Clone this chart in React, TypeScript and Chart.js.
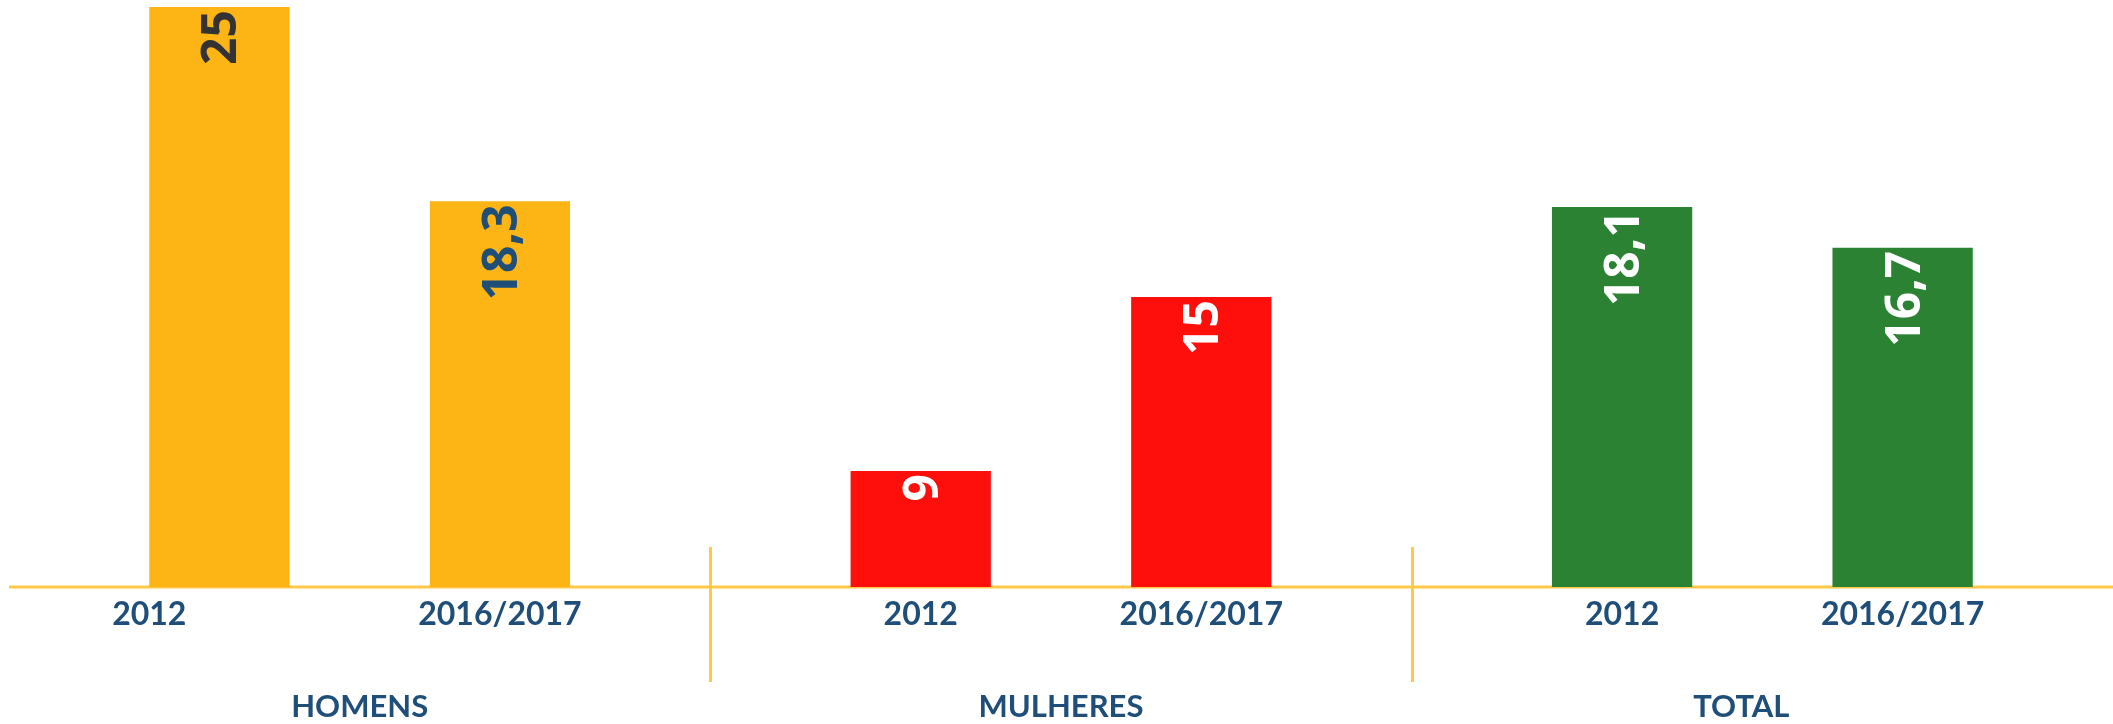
import React, { useEffect, useRef } from 'react';
import { Chart, registerables } from 'chart.js';

Chart.register(...registerables);

// ---- data ----
const groups = ['HOMENS', 'MULHERES', 'TOTAL'];
const periods = ['2012', '2016/2017'];
const values2012 = [25, 9, 18.1];
const values2016_2017 = [18.3, 15, 16.7];

// ---- styles ----
const GROUP_COLORS = ['#FCB514', '#FF0F0C', '#2A8232'];
const LABEL_COLORS = [
  ['#333333', '#FFFFFF', '#FFFFFF'],
  ['#1F4E79', '#FFFFFF', '#FFFFFF'],
];
const AXIS_COLOR = '#FFC847';
const TEXT_BLUE = '#1F4E79';
const GROUP_LABEL_NUDGE = [0, 0, -21];

const fmt = (v: number) => String(v).replace('.', ',');

const drawPlugin = {
  id: 'customDraw',
  beforeDatasetsDraw(chart: any) {
    const { ctx, chartArea } = chart;
    ctx.save();
    ctx.strokeStyle = AXIS_COLOR;
    ctx.lineWidth = 3;
    ctx.beginPath();
    ctx.moveTo(chartArea.left, chartArea.bottom);
    ctx.lineTo(chartArea.right, chartArea.bottom);
    ctx.stroke();
    ctx.restore();
  },
  afterDatasetsDraw(chart: any) {
    const { ctx, chartArea } = chart;
    const xs = chart.scales.x;
    ctx.save();
    // group separators
    const n = groups.length;
    const w = (xs.right - xs.left) / n;
    ctx.strokeStyle = AXIS_COLOR;
    ctx.lineWidth = 3;
    for (let i = 1; i < n; i++) {
      const x = Math.round(xs.left + i * w) + 0.5;
      ctx.beginPath();
      ctx.moveTo(x, chartArea.bottom - 40);
      ctx.lineTo(x, chartArea.bottom + 95);
      ctx.stroke();
    }
    // value labels and period labels
    chart.data.datasets.forEach((ds: any, di: number) => {
      const meta = chart.getDatasetMeta(di);
      meta.data.forEach((bar: any, i: number) => {
        const v = ds.data[i];
        ctx.save();
        ctx.translate(bar.x, bar.y + 3);
        ctx.rotate(-Math.PI / 2);
        ctx.font = 'bold 48px "Open Sans"';
        ctx.fillStyle = LABEL_COLORS[di][i];
        ctx.textAlign = 'right';
        ctx.textBaseline = 'alphabetic';
        ctx.fillText(fmt(v), 0, 17);
        ctx.restore();

        ctx.font = 'bold 32px Lato';
        ctx.fillStyle = TEXT_BLUE;
        ctx.textAlign = 'center';
        ctx.textBaseline = 'alphabetic';
        const lx = di === 0 && i === 0 ? bar.x - bar.width / 2 : bar.x;
        ctx.fillText(periods[di], lx, chartArea.bottom + 38);
      });
    });
    // group labels
    ctx.font = 'bold 31px Lato';
    ctx.fillStyle = TEXT_BLUE;
    ctx.textAlign = 'center';
    ctx.textBaseline = 'alphabetic';
    groups.forEach((g, i) => {
      ctx.fillText(g, xs.getPixelForValue(i) + GROUP_LABEL_NUDGE[i], chartArea.bottom + 130);
    });
    ctx.restore();
  },
};

export default function App() {
  const canvasRef = useRef<HTMLCanvasElement | null>(null);

  useEffect(() => {
    document.body.style.margin = '0';
    const canvas = canvasRef.current;
    if (!canvas) return;
    const chart = new Chart(canvas, {
      type: 'bar',
      data: {
        labels: groups,
        datasets: [
          {
            label: periods[0],
            data: values2012,
            backgroundColor: GROUP_COLORS,
            categoryPercentage: 0.8,
            barPercentage: 0.5,
          },
          {
            label: periods[1],
            data: values2016_2017,
            backgroundColor: GROUP_COLORS,
            categoryPercentage: 0.8,
            barPercentage: 0.5,
          },
        ],
      },
      options: {
        animation: false,
        responsive: false,
        devicePixelRatio: 1,
        layout: { padding: { left: 9, right: 0, top: 7, bottom: 137 } },
        plugins: {
          legend: { display: false },
          tooltip: { enabled: false },
        },
        scales: {
          x: { display: false },
          y: { display: false, min: 5, max: 25 },
        },
      },
      plugins: [drawPlugin],
    });
    return () => chart.destroy();
  }, []);

  return (
    <div style={{ width: 2113, height: 724, background: '#FFFFFF' }}>
      <canvas ref={canvasRef} width={2113} height={724} style={{ display: 'block' }} />
    </div>
  );
}
